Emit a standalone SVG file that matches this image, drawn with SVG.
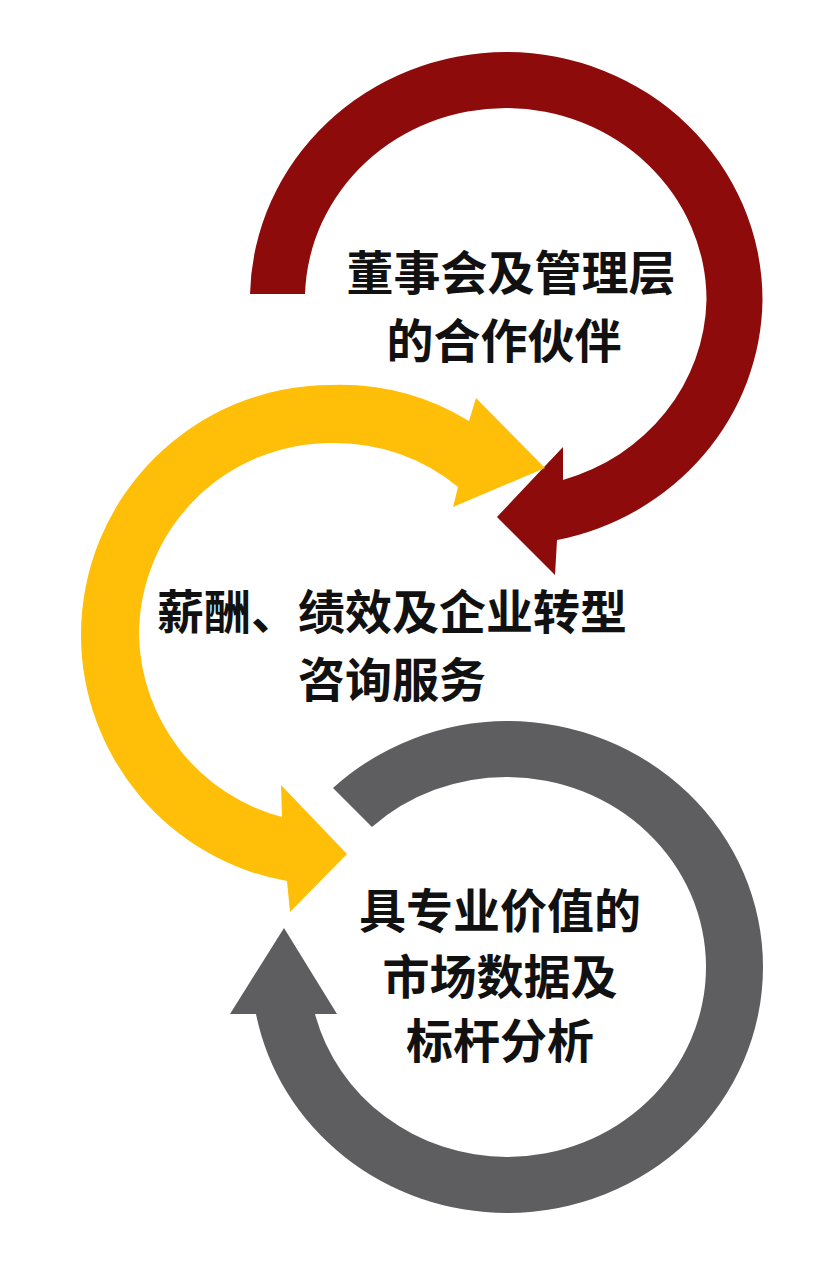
<svg xmlns="http://www.w3.org/2000/svg" width="835" height="1280" viewBox="0 0 835 1280">
  <style>
    .lbl { font-family: "Noto Sans CJK SC", "Noto Sans", sans-serif; font-size: 47px; font-weight: 700; fill: #111111; text-anchor: middle; }
    .red { fill: #8D0B0B; }
    .yellow { fill: #FFBE08; }
    .grey { fill: #5E5E60; }
  </style>
  <rect width="835" height="1280" fill="#ffffff"/>
  <g id="connectors">
    <path id="arrow-red" class="red" d="M 250,294 A 256.5 248 0 0 1 506,52 A 256.5 248 0 0 1 762.5,300 A 256.5 248 0 0 1 557,540 L 555,575 L 497,517 L 563,447 L 563,480 A 201 192 0 0 0 706.5,300 A 201 192 0 0 0 506,108 A 201 192 0 0 0 305,294 Z"/>
    <path id="arrow-yellow" class="yellow" d="M 469,421 A 250 250 0 0 0 331,385 A 250 250 0 0 0 81,635 A 250 250 0 0 0 287,881 L 290,912 L 347,854 L 281,785 L 282,817 A 192 192 0 0 1 139,635 A 192 192 0 0 1 331,443 A 192 192 0 0 1 458,487 L 453,507 L 545,468 L 476,398 Z"/>
    <path id="arrow-grey" class="grey" d="M 333,788 A 256 246 0 0 1 507,721 A 256 246 0 0 1 763,967 A 256 246 0 0 1 507,1213 A 256 246 0 0 1 256,1014 L 230,1014 L 284,928 L 337,1014 L 315,1014 A 199 190 0 0 0 507,1157 A 199 190 0 0 0 706,967 A 199 190 0 0 0 507,777 A 199 190 0 0 0 372,827 Z"/>
  </g>
  <g id="node-board">
    <text class="lbl" x="511" y="290">董事会及管理层</text>
    <text class="lbl" x="504" y="358">的合作伙伴</text>
  </g>
  <g id="node-consulting">
    <text class="lbl" x="392" y="629">薪酬、绩效及企业转型</text>
    <text class="lbl" x="392" y="697">咨询服务</text>
  </g>
  <g id="node-market">
    <text class="lbl" x="500" y="928">具专业价值的</text>
    <text class="lbl" x="500" y="994">市场数据及</text>
    <text class="lbl" x="500" y="1058">标杆分析</text>
  </g>
</svg>
